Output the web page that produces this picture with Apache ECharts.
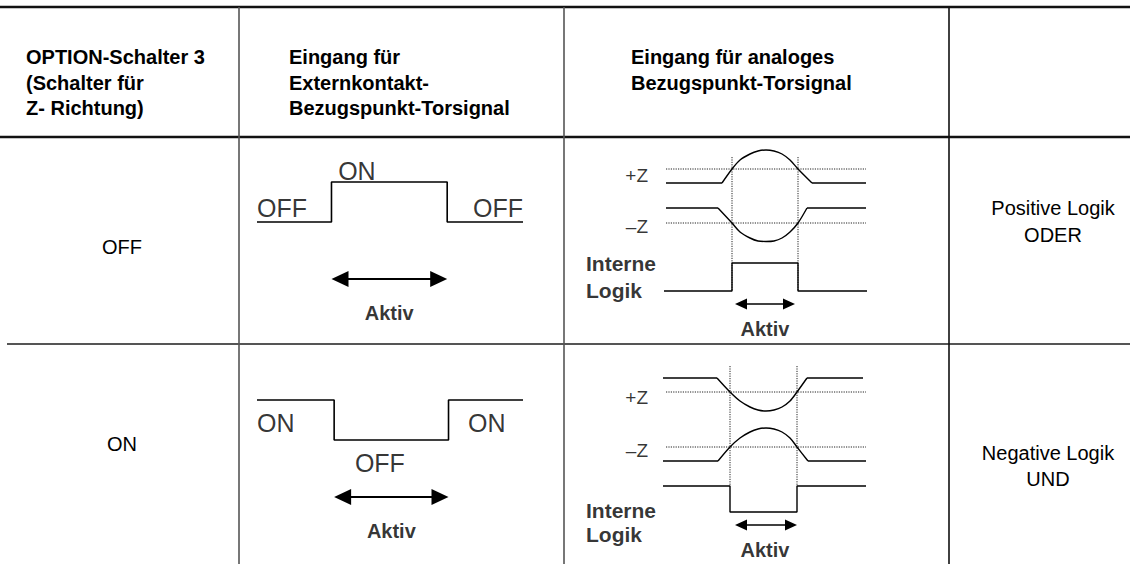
<!DOCTYPE html>
<html><head><meta charset="utf-8">
<script src="https://cdn.jsdelivr.net/npm/echarts@6/dist/echarts.min.js"></script>
<style>html,body{margin:0;padding:0;background:#fff}#c{width:1130px;height:564px}</style>
</head><body><div id="c"></div>
<script>
// ================= DATA =================
const headerCol1 = ['OPTION-Schalter 3', '(Schalter für', 'Z- Richtung)'];
const headerCol2 = ['Eingang für', 'Externkontakt-', 'Bezugspunkt-Torsignal'];
const headerCol3 = ['Eingang für analoges', 'Bezugspunkt-Torsignal'];
const switchStates = ['OFF', 'ON'];
const logicResults = [['Positive Logik', 'ODER'], ['Negative Logik', 'UND']];
const activeLabel = 'Aktiv';
const internalLogicLabel = ['Interne', 'Logik'];
const thresholdNames = ['+Z', '–Z'];
const extLevelNames = ['OFF', 'ON'];

// External contact signal: time (0..10), level (0 = low, 1 = high)
const extTimeOff = [0, 2.8, 2.8, 7.15, 7.15, 10];
const extLevelOff = [0, 0, 1, 1, 0, 0];
const extTimeOn = [0, 2.9, 2.9, 7.2, 7.2, 10];
const extLevelOn = [1, 1, 0, 0, 1, 1];
const extActiveOff = [2.8, 7.15];
const extActiveOn = [2.9, 7.2];

// Analog signal, switch OFF (time 0..10, level in signal units)
const plusTimeOff = [0, 2.8, 3.3, 3.7, 4.2, 4.6, 5.0, 5.4, 5.8, 6.2, 6.6, 7.3, 10];
const plusZOff = [16.2, 16.2, 17.6, 18.5, 19.1, 19.4, 19.5, 19.4, 19.1, 18.5, 17.6, 16.2, 16.2];
const minusTimeOff = [0, 2.6, 3.3, 3.7, 4.2, 4.6, 5.0, 5.4, 5.8, 6.2, 6.6, 7.05, 10];
const minusZOff = [13.7, 13.7, 12.2, 11.3, 10.7, 10.4, 10.35, 10.4, 10.7, 11.3, 12.2, 13.7, 13.7];
const logicTimeOff = [-0.1, 3.3, 3.3, 6.6, 6.6, 10.05];
const logicOff = [5.4, 5.4, 8.2, 8.2, 5.4, 5.4];
const thresholdsOff = [17.6, 12.2];
const crossTimesOff = [3.3, 6.6];
const crossSpanOff = [18.8, 5.4];
const anaActiveOff = [3.45, 6.45];

// Analog signal, switch ON
const plusTimeOn = [-0.15, 2.55, 3.2, 3.7, 4.2, 4.6, 5.0, 5.4, 5.8, 6.2, 6.55, 7.05, 9.85];
const plusZOn = [18.2, 18.2, 16.8, 15.9, 15.3, 15.0, 14.9, 15.0, 15.3, 15.9, 16.8, 18.2, 18.2];
const minusTimeOn = [-0.15, 2.6, 3.2, 3.7, 4.2, 4.6, 5.0, 5.4, 5.8, 6.2, 6.55, 7.1, 10];
const minusZOn = [9.9, 9.9, 11.3, 12.2, 12.8, 13.1, 13.2, 13.1, 12.8, 12.2, 11.3, 9.9, 9.9];
const logicTimeOn = [-0.15, 3.2, 3.2, 6.55, 6.55, 10];
const logicOn = [7.4, 7.4, 4.8, 4.8, 7.4, 7.4];
const thresholdsOn = [16.8, 11.3];
const crossTimesOn = [3.2, 6.55];
const crossSpanOn = [19.4, 7.4];
const anaActiveOn = [3.45, 6.55];

// ================= LAYOUT / STYLE =================
const FONT = '"Liberation Sans", Arial, Helvetica, sans-serif';
const zip = (a, b) => a.map((v, i) => [v, b[i]]);
const W = 1130, H = 564;
const yTop = 7, yHead = 137, yRow = 344;
const colX = [239, 564, 949];

const gridBoxes = [
  { left: 257, top: 162, width: 266, height: 160 },   // ext, OFF
  { left: 257, top: 380, width: 266, height: 160 },   // ext, ON
  { left: 566, top: 145, width: 300, height: 200 },   // analog, OFF
  { left: 566, top: 360, width: 300, height: 200 }    // analog, ON
];
const grids = gridBoxes.map(g => Object.assign({ outerBoundsMode: 'none', containLabel: false, show: false }, g));
const xRanges = [[0, 10], [0, 10], [-5, 10], [-5, 10]];
const yRanges = [[-2.5, 1.5], [-2.5, 1.5], [0, 20], [0, 20]];
const xAxes = xRanges.map((r, i) => ({ type: 'value', gridIndex: i, min: r[0], max: r[1], show: false }));
const yAxes = yRanges.map((r, i) => ({ type: 'value', gridIndex: i, min: r[0], max: r[1], show: false }));

const series = [];
function line(gi, data, opts) {
  series.push(Object.assign({
    type: 'line', xAxisIndex: gi, yAxisIndex: gi, data: data, symbol: 'none',
    silent: true, animation: false, clip: false,
    lineStyle: { color: '#000', width: 1.4 }
  }, opts || {}));
}
function dotted(gi, data) {
  line(gi, data, { lineStyle: { color: '#222', width: 1, type: [1.2, 1.2] } });
}
// curve: straight flat ends, smooth middle section
function curve(gi, data) {
  const n = data.length;
  line(gi, data.slice(0, 2));
  line(gi, data.slice(1, n - 1), { smooth: 0.3 });
  line(gi, data.slice(n - 2));
}
function arrow(gi, span, level, size, width) {
  // triangle symbols are centred on the end points: pull the ends in by half a head length
  const pxPerUnit = gridBoxes[gi].width / (xRanges[gi][1] - xRanges[gi][0]);
  const off = size[1] / 2 / pxPerUnit;
  series.push({
    type: 'line', xAxisIndex: gi, yAxisIndex: gi, data: [], silent: true, animation: false,
    markLine: {
      silent: true, animation: false,
      symbol: ['triangle', 'triangle'], symbolSize: size,
      lineStyle: { color: '#000', width: width, type: 'solid' },
      itemStyle: { color: '#000' },
      label: { show: false },
      data: [[{ coord: [span[0] + off, level] }, { coord: [span[1] - off, level] }]]
    }
  });
}
function labels(gi, items) {
  series.push({
    type: 'scatter', xAxisIndex: gi, yAxisIndex: gi, silent: true, animation: false,
    symbolSize: 1, itemStyle: { color: 'rgba(0,0,0,0)' },
    data: items.map(it => ({
      value: [it.t, it.v],
      label: {
        show: true, position: 'inside', formatter: it.text,
        align: it.align || 'center', verticalAlign: 'middle',
        textBorderWidth: 0, textShadowBlur: 0,
        fontFamily: FONT, fontSize: it.size, fontWeight: it.bold ? 'bold' : 'normal', color: '#000'
      }
    }))
  });
}

// External contact diagrams
line(0, zip(extTimeOff, extLevelOff), { lineStyle: { color: '#000', width: 1.6 } });
arrow(0, extActiveOff, -1.425, [16, 17], 2);
labels(0, [
  { t: 0, v: 0.34, text: extLevelNames[0], align: 'left', size: 25 },
  { t: 10, v: 0.34, text: extLevelNames[0], align: 'right', size: 25 },
  { t: 3.05, v: 1.275, text: extLevelNames[1], align: 'left', size: 25 },
  { t: 4.97, v: -2.275, text: activeLabel, size: 20, bold: true }
]);
line(1, zip(extTimeOn, extLevelOn), { lineStyle: { color: '#000', width: 1.6 } });
arrow(1, extActiveOn, -1.425, [16, 17], 2);
labels(1, [
  { t: 0, v: 0.425, text: extLevelNames[1], align: 'left', size: 25 },
  { t: 7.93, v: 0.425, text: extLevelNames[1], align: 'left', size: 25 },
  { t: 4.62, v: -0.575, text: extLevelNames[0], size: 25 },
  { t: 5.05, v: -2.275, text: activeLabel, size: 20, bold: true }
]);

// Analog diagrams
function analog(gi, pt, pz, mt, mz, lt, lz, th, ct, cs, act, pos) {
  dotted(gi, [[0, th[0]], [10, th[0]]]);
  dotted(gi, [[0, th[1]], [10, th[1]]]);
  ct.forEach(t => dotted(gi, [[t, cs[0]], [t, cs[1]]]));
  curve(gi, zip(pt, pz));
  curve(gi, zip(mt, mz));
  line(gi, zip(lt, lz));
  arrow(gi, act, pos.arrow, [11, 12], 1.7);
  labels(gi, [
    { t: -0.9, v: pos.plus, text: thresholdNames[0], align: 'right', size: 19 },
    { t: -0.9, v: pos.minus, text: thresholdNames[1], align: 'right', size: 19 },
    { t: -4.0, v: pos.intern, text: internalLogicLabel[0], align: 'left', size: 21, bold: true },
    { t: -4.0, v: pos.logik, text: internalLogicLabel[1], align: 'left', size: 21, bold: true },
    { t: 4.95, v: pos.aktiv, text: activeLabel, size: 20, bold: true }
  ]);
}
analog(2, plusTimeOff, plusZOff, minusTimeOff, minusZOff, logicTimeOff, logicOff,
  thresholdsOff, crossTimesOff, crossSpanOff, anaActiveOff,
  { arrow: 4.1, plus: 17.0, minus: 11.9, intern: 8.2, logik: 5.5, aktiv: 1.6 });
analog(3, plusTimeOn, plusZOn, minusTimeOn, minusZOn, logicTimeOn, logicOn,
  thresholdsOn, crossTimesOn, crossSpanOn, anaActiveOn,
  { arrow: 3.5, plus: 16.3, minus: 11.0, intern: 5.0, logik: 2.6, aktiv: 1.0 });

// Table frame and text
const graphics = [];
function rule(x1, y1, x2, y2, w, c) {
  graphics.push({ type: 'line', silent: true, shape: { x1, y1, x2, y2 }, style: { stroke: c, lineWidth: w } });
}
function text(x, y, s, size, bold, align) {
  graphics.push({ type: 'text', silent: true, x: x, y: y,
    style: { text: s, font: (bold ? 'bold ' : '') + size + 'px ' + FONT, fill: '#000',
      align: align || 'left', verticalAlign: 'middle' } });
}
rule(0, yTop, W, yTop, 2.5, '#111');
rule(0, yHead, W, yHead, 2.5, '#111');
rule(7, yRow, W, yRow, 2, '#555');
rule(colX[0], yTop, colX[0], H, 1.6, '#555');
rule(colX[1], yTop, colX[1], H, 1.6, '#555');
rule(colX[2], yTop, colX[2], H, 1.6, '#111');

const headLine = [57, 82.5, 108];
headerCol1.forEach((s, i) => text(26, headLine[i], s, 20, true));
headerCol2.forEach((s, i) => text(289, headLine[i], s, 20, true));
headerCol3.forEach((s, i) => text(631, headLine[i], s, 20, true));

text(122, 247, switchStates[0], 20, false, 'center');
text(122, 444, switchStates[1], 20, false, 'center');
text(1053, 208, logicResults[0][0], 20, false, 'center');
text(1053, 235, logicResults[0][1], 20, false, 'center');
text(1048, 453, logicResults[1][0], 20, false, 'center');
text(1048, 479, logicResults[1][1], 20, false, 'center');

const chart = echarts.init(document.getElementById('c'), null, { renderer: 'svg' });
chart.setOption({
  animation: false,
  backgroundColor: '#fff',
  grid: grids, xAxis: xAxes, yAxis: yAxes,
  series: series,
  graphic: graphics
});
</script></body></html>
